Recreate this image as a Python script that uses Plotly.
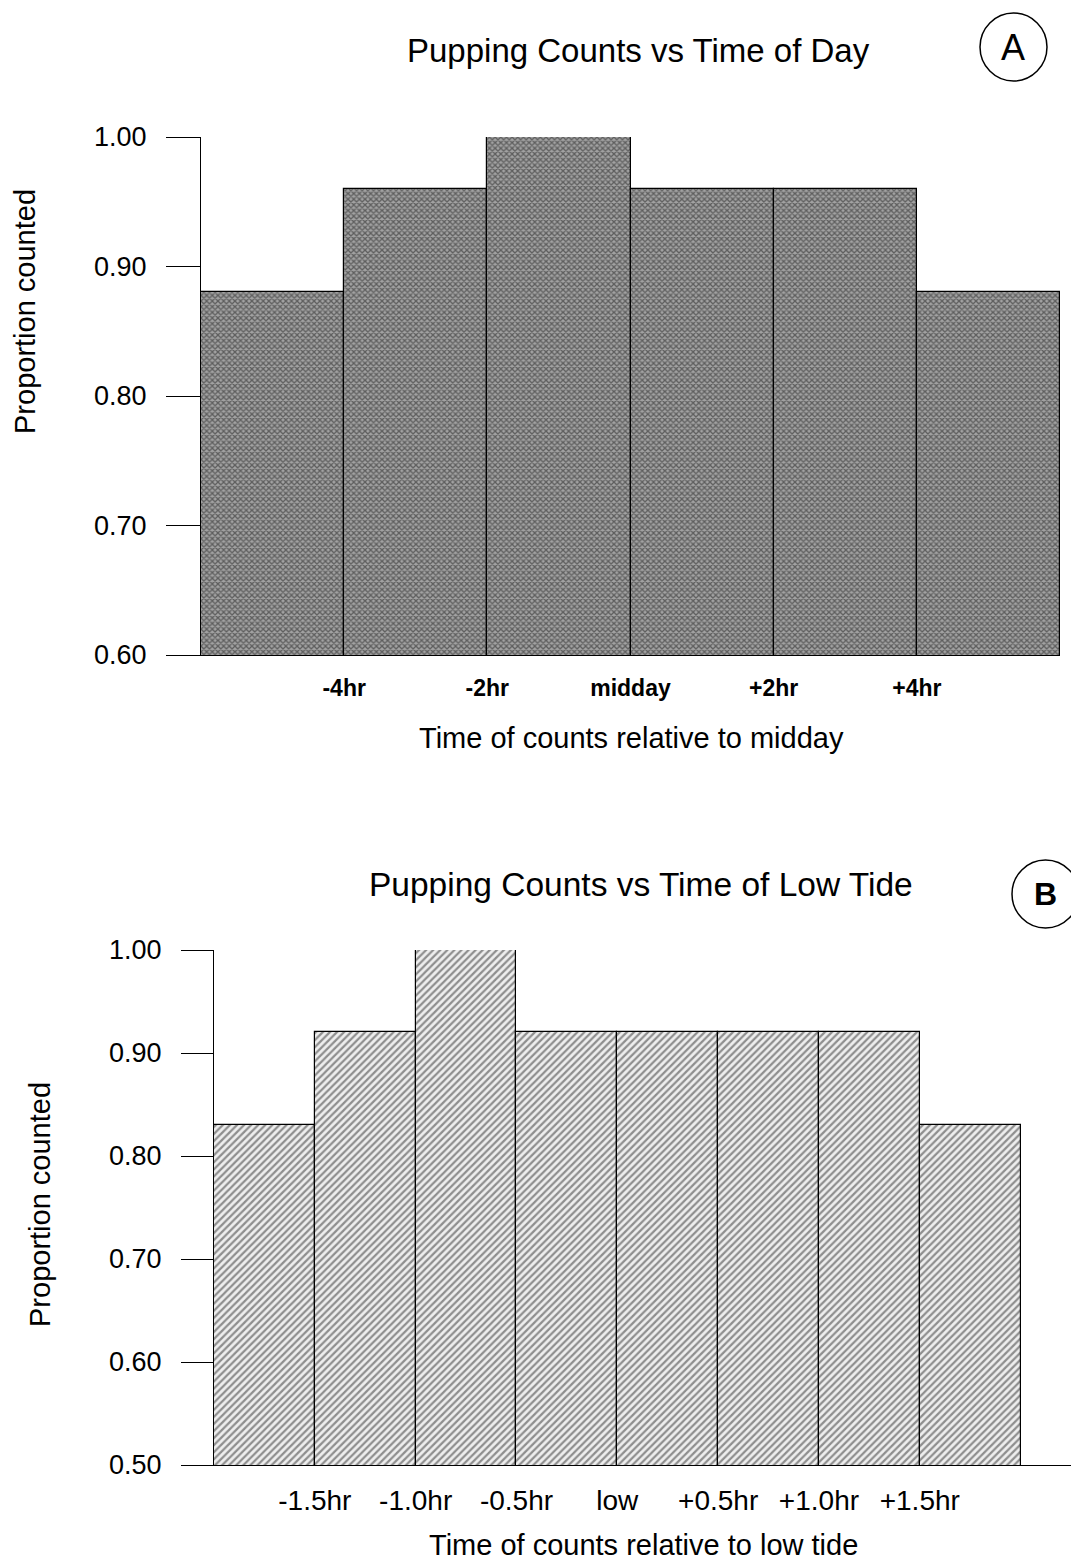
import plotly.graph_objects as go

W, H = 1071, 1561

# Panel A data
a_pos = [0.5, 1.5, 2.5, 3.5, 4.5, 5.5]
a_vals = [0.88, 0.96, 1.00, 0.96, 0.96, 0.88]
a_tickvals = [1, 2, 3, 4, 5]
a_ticktext = ["-4hr", "-2hr", "midday", "+2hr", "+4hr"]
a_yticks = [0.60, 0.70, 0.80, 0.90, 1.00]

# Panel B data
b_pos = [0.5, 1.5, 2.5, 3.5, 4.5, 5.5, 6.5, 7.5]
b_vals = [0.83, 0.92, 1.00, 0.92, 0.92, 0.92, 0.92, 0.83]
b_tickvals = [1, 2, 3, 4, 5, 6, 7]
b_ticktext = ["-1.5hr", "-1.0hr", "-0.5hr", "low", "+0.5hr", "+1.0hr", "+1.5hr"]
b_yticks = [0.50, 0.60, 0.70, 0.80, 0.90, 1.00]

FONT = "Liberation Sans, Arial, sans-serif"

fig = go.Figure()
fig.add_trace(go.Bar(
    x=a_pos, y=a_vals, width=1.0, xaxis="x", yaxis="y",
    marker=dict(color="#777777", line=dict(color="black", width=1.2),
                pattern=dict(shape="x", size=4, solidity=0.55,
                             fgcolor="#1a1a1a", bgcolor="#a2a2a2")),
    showlegend=False))
fig.add_trace(go.Bar(
    x=b_pos, y=b_vals, width=1.0, xaxis="x2", yaxis="y2",
    marker=dict(color="#bbbbbb", line=dict(color="black", width=1.2),
                pattern=dict(shape="/", size=5, solidity=0.45,
                             fgcolor="#2e2e2e", bgcolor="#eeeeee")),
    showlegend=False))

def px_x(p):
    return p / W

def px_y(p):
    return 1 - p / H

fig.update_layout(
    width=W, height=H, margin=dict(l=0, r=0, t=0, b=0, pad=0, autoexpand=False),
    paper_bgcolor="white", plot_bgcolor="white",
    font=dict(family=FONT, color="black"),
    bargap=0,
    xaxis=dict(domain=[px_x(201), px_x(1060)], range=[0, 6], anchor="y",
               showline=True, linecolor="black", linewidth=1.2,
               showgrid=False, zeroline=False, ticks="",
               tickvals=a_tickvals, ticktext=a_ticktext,
               tickfont=dict(size=23, family=FONT, weight="bold"),
               ticklabelstandoff=12),
    yaxis=dict(domain=[px_y(655), px_y(137)], range=[0.60, 1.00], anchor="x",
               showline=True, linecolor="black", linewidth=1.2,
               showgrid=False, zeroline=False, ticks="outside", ticklen=34,
               tickcolor="black", tickwidth=1.2,
               tickvals=a_yticks, ticktext=[f"{v:.2f}" for v in a_yticks],
               tickfont=dict(size=27), ticklabelstandoff=14),
    xaxis2=dict(domain=[px_x(214), 1.0], range=[0, 8.5], anchor="y2",
                showline=True, linecolor="black", linewidth=1.2,
                showgrid=False, zeroline=False, ticks="",
                tickvals=b_tickvals, ticktext=b_ticktext,
                tickfont=dict(size=28), ticklabelstandoff=10),
    yaxis2=dict(domain=[px_y(1465), px_y(950)], range=[0.50, 1.00], anchor="x2",
                showline=True, linecolor="black", linewidth=1.2,
                showgrid=False, zeroline=False, ticks="outside", ticklen=32,
                tickcolor="black", tickwidth=1.2,
                tickvals=b_yticks, ticktext=[f"{v:.2f}" for v in b_yticks],
                tickfont=dict(size=27), ticklabelstandoff=14),
)

def ann(text, x, y, size, angle=0, weight="normal"):
    fig.add_annotation(text=text, x=px_x(x), y=px_y(y), xref="paper", yref="paper",
                       showarrow=False, textangle=angle,
                       font=dict(size=size, family=FONT, color="black", weight=weight),
                       xanchor="center", yanchor="middle")

ann("Pupping Counts vs Time of Day", 638, 50, 33)
ann("Time of counts relative to midday", 631, 738, 29)
ann("Proportion counted", 25, 312, 29, angle=-90)
ann("Pupping Counts vs Time of Low Tide", 641, 884, 33.5)
ann("Time of counts relative to low tide", 643, 1545, 29)
ann("Proportion counted", 40, 1205, 29, angle=-90)

# Panel labels in circles
fig.add_shape(type="circle", xref="paper", yref="paper",
              x0=px_x(980), x1=px_x(1047), y0=px_y(81), y1=px_y(13),
              line=dict(color="black", width=1.5))
ann("A", 1013, 47, 36)
fig.add_shape(type="circle", xref="paper", yref="paper",
              x0=px_x(1012), x1=px_x(1079), y0=px_y(928), y1=px_y(860),
              line=dict(color="black", width=1.5))
ann("B", 1045, 894, 32, weight="bold")

fig.write_html("out.html")
